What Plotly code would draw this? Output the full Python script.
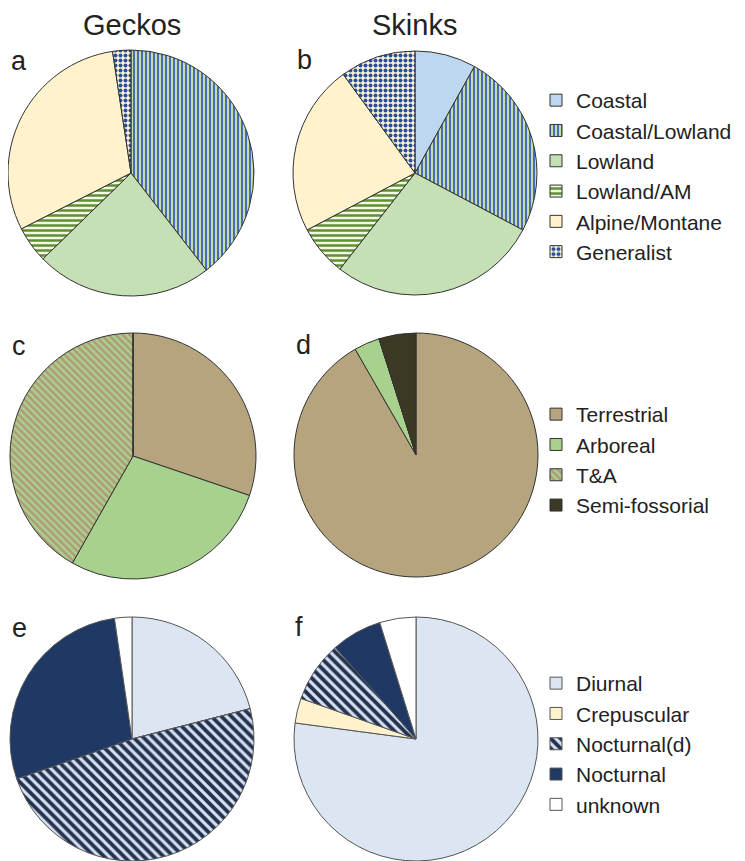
import plotly.graph_objects as go

# The page body has an 8px margin, so the figure is laid out in screen
# coordinates and shifted by that offset.
OFF = 8
W, H = 745 - OFF, 861 - OFF

# ---------------- data ----------------
column_titles = ["Geckos", "Skinks"]
panel_letters = ["a", "b", "c", "d", "e", "f"]

habitat_labels = ["Coastal", "Coastal/Lowland", "Lowland", "Lowland/AM", "Alpine/Montane", "Generalist"]
geckos_habitat = [0, 39.5, 23.2, 4.8, 30.1, 2.4]
skinks_habitat = [8.1, 24.6, 27.8, 6.7, 22.7, 10.0]

substrate_labels = ["Terrestrial", "Arboreal", "T&A", "Semi-fossorial"]
geckos_substrate = [30.2, 28.0, 41.8, 0]
skinks_substrate = [91.7, 3.4, 0, 4.9]

activity_labels = ["Diurnal", "Crepuscular", "Nocturnal(d)", "Nocturnal", "unknown"]
geckos_activity = [21.0, 0, 48.7, 28.0, 2.3]
skinks_activity = [77.1, 3.3, 8.1, 6.7, 4.8]

# ---------------- styles ----------------
habitat_style = dict(
    shape=["", "|", "", "-", "", "."],
    bg=["#bdd7ee", "#c3dea6", "#c5e0b4", "#f3f7e6", "#fff2cc", "#fdf6d3"],
    fg=["#bdd7ee", "#4a6cb8", "#c5e0b4", "#5f8f32", "#fff2cc", "#2c4ca0"],
    size=[8, 4, 8, 5, 8, 5],
    solidity=[0.5, 0.5, 0.5, 0.5, 0.5, 0.5],
)
substrate_style = dict(
    shape=["", "", "\\", ""],
    bg=["#b5a47e", "#a9d18e", "#a9d18e", "#3b3824"],
    fg=["#b5a47e", "#a9d18e", "#b09a78", "#3b3824"],
    size=[8, 8, 5, 8],
    solidity=[0.5, 0.5, 0.5, 0.5],
)
activity_style = dict(
    shape=["", "", "\\", "", ""],
    bg=["#dce6f2", "#fff2cc", "#d6e2f0", "#1f3864", "#ffffff"],
    fg=["#dce6f2", "#fff2cc", "#24324f", "#1f3864", "#ffffff"],
    size=[8, 8, 7, 8, 8],
    solidity=[0.5, 0.5, 0.55, 0.5, 0.5],
)


def px(x):
    return (x - OFF) / W


def py(y):
    return 1 - (y - OFF) / H


def dom(x0, x1, y0, y1):
    return dict(x=[px(x0), px(x1)], y=[max(0.0, py(y1)), min(1.0, py(y0))])


def make_pie(labels, values, style, domain, legend, line_color):
    return go.Pie(
        labels=labels,
        values=values,
        sort=False,
        direction="clockwise",
        rotation=0,
        textinfo="none",
        hoverinfo="label+percent",
        domain=domain,
        legend=legend,
        marker=dict(
            colors=style["bg"],
            line=dict(color=line_color, width=1),
            pattern=dict(
                shape=style["shape"],
                bgcolor=style["bg"],
                fgcolor=style["fg"],
                size=style["size"],
                solidity=style["solidity"],
                fillmode="replace",
            ),
        ),
    )


fig = go.Figure()
fig.add_trace(make_pie(habitat_labels, geckos_habitat, habitat_style, dom(8, 254, 50, 296), "legend", "#333333"))
fig.add_trace(make_pie(habitat_labels, skinks_habitat, habitat_style, dom(293, 537, 51, 295), "legend", "#333333"))
fig.add_trace(make_pie(substrate_labels, geckos_substrate, substrate_style, dom(10, 256, 333, 579), "legend2", "#333333"))
fig.add_trace(make_pie(substrate_labels, skinks_substrate, substrate_style, dom(294, 538, 333, 577), "legend2", "#333333"))
fig.add_trace(make_pie(activity_labels, geckos_activity, activity_style, dom(9, 255, 617, 863), "legend3", "#555555"))
fig.add_trace(make_pie(activity_labels, skinks_activity, activity_style, dom(294, 538, 617, 861), "legend3", "#555555"))

font_family = "Liberation Sans, Arial, sans-serif"
legend_common = dict(
    xanchor="left", yanchor="top", bgcolor="rgba(0,0,0,0)",
    font=dict(family=font_family, size=21, color="#222222"),
    itemclick=False, itemdoubleclick=False,
)

annotations = []
for title, xc in zip(column_titles, [132, 414]):
    annotations.append(dict(text=title, x=px(xc), y=py(25), xref="paper", yref="paper",
                            xanchor="center", yanchor="middle", showarrow=False,
                            font=dict(family=font_family, size=29, color="#222222")))
letter_pos = [(19, 61), (304, 60), (19, 346), (303, 345), (19, 628), (299, 627)]
for letter, (lx, ly) in zip(panel_letters, letter_pos):
    annotations.append(dict(text=letter, x=px(lx), y=py(ly), xref="paper", yref="paper",
                            xanchor="center", yanchor="middle", showarrow=False,
                            font=dict(family=font_family, size=27, color="#222222")))

fig.update_layout(
    width=W, height=H,
    margin=dict(l=0, r=0, t=0, b=0),
    paper_bgcolor="white", plot_bgcolor="white",
    showlegend=True,
    legend=dict(x=px(536), y=py(80), **legend_common),
    legend2=dict(x=px(536), y=py(394), **legend_common),
    legend3=dict(x=px(536), y=py(663), **legend_common),
    annotations=annotations,
)

fig.write_html("out.html")
